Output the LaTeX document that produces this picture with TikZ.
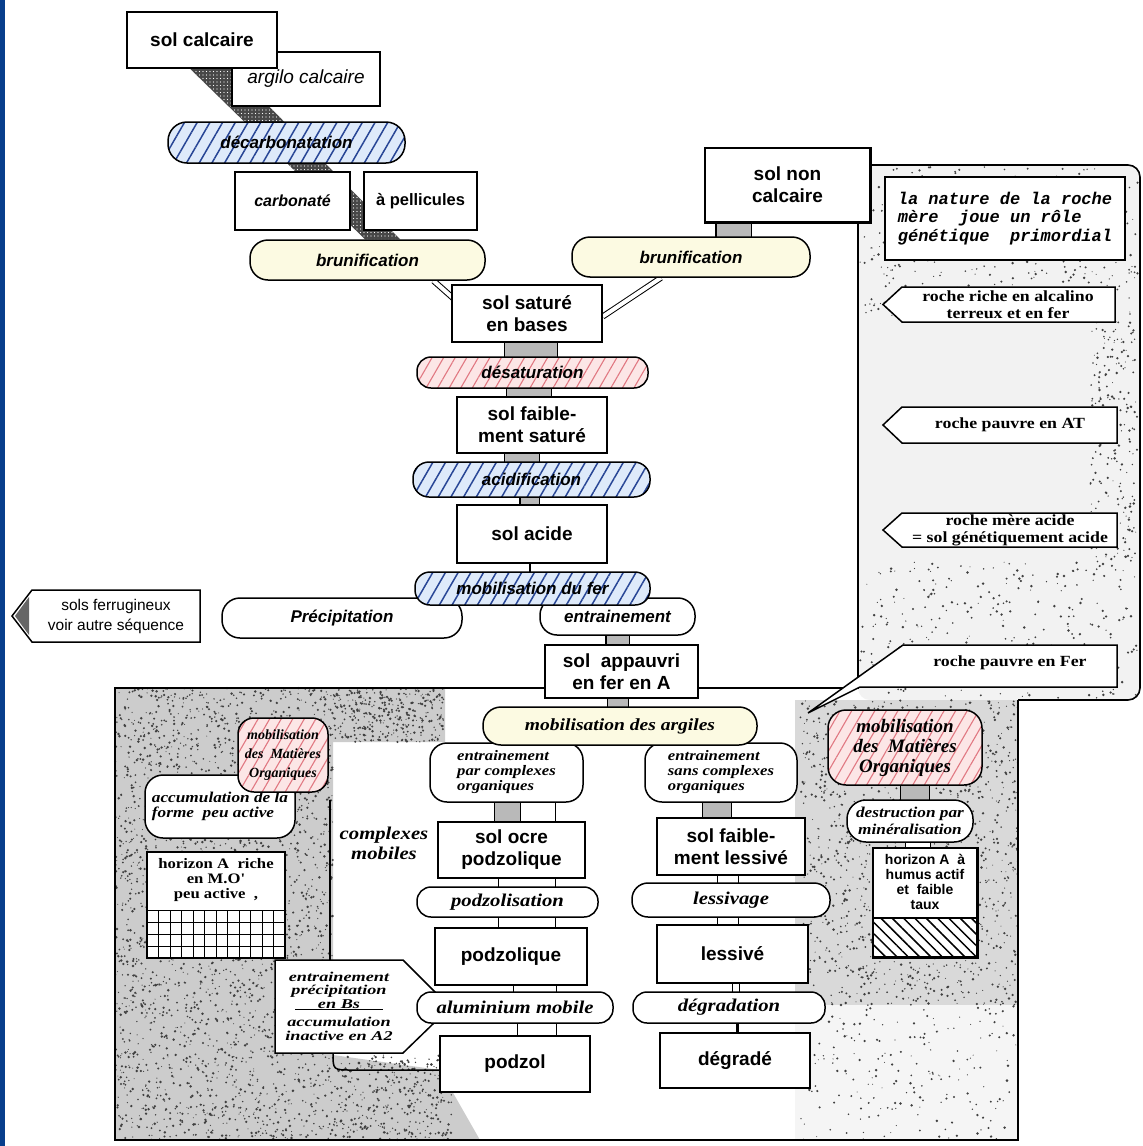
\documentclass[tikz,border=0pt]{standalone}
\usepackage{fontspec}
\setmainfont{Liberation Serif}
\newfontfamily\hv{Liberation Sans}
\newfontfamily\tm{Liberation Serif}
\newfontfamily\tmw[FakeStretch=1.15]{Liberation Serif}
\newfontfamily\tmx[FakeStretch=1.35]{Liberation Serif}
\newfontfamily\mono{Liberation Mono}
\usetikzlibrary{patterns.meta,calc}
\pgfdeclarelayer{back}\pgfdeclarelayer{mid}\pgfsetlayers{back,mid,main}
\definecolor{stripblue}{RGB}{8,62,140}
\definecolor{hblue}{RGB}{40,70,150}
\definecolor{lblue}{RGB}{222,234,250}
\definecolor{lpink}{RGB}{252,230,230}
\definecolor{hpink}{RGB}{225,120,130}
\definecolor{lyell}{RGB}{252,250,226}
\tikzset{
 lw/.style={line width=1.5pt},
 box/.style={draw, lw, fill=white, inner sep=0pt, align=center, font=\hv\bfseries\fontsize{19}{22}\selectfont},
 pill/.style={draw, lw, fill=white, inner sep=0pt, align=center, rounded corners=14pt, font=\hv\bfseries\itshape\fontsize{17}{19}\selectfont},
 spill/.style={pill, font=\tmw\bfseries\itshape\fontsize{18}{20}\selectfont},
 bluehatch/.style={preaction={fill=lblue}, pattern={Lines[angle=60,distance=11pt,line width=1.5pt]}, pattern color=hblue},
 pinkhatch/.style={preaction={fill=lpink}, pattern={Lines[angle=60,distance=10pt,line width=1.1pt]}, pattern color=hpink},
 yellowfill/.style={fill=lyell},
 pipe/.style={line width=1.2pt, double=white, double distance=#1},
 dpipe/.style={line width=1.2pt, double=gray!55, double distance=#1},
 note/.style={font=\tmw\bfseries\fontsize{15.5}{17}\selectfont, align=center, inner sep=0pt},
 arrowshape/.style={draw, lw, fill=white},
 speck/.style={fill=black!75},
}
\newcommand{\speckle}[5]{% count, x0, y0, w, h
  \foreach \k in {1,...,#1}{%
    \pgfmathsetmacro{\px}{#2+#4*rnd}\pgfmathsetmacro{\py}{#3+#5*rnd}\pgfmathsetmacro{\pr}{0.5+0.9*rnd}%
    \fill[speck] (\px,\py) circle (\pr);}}
\begin{document}
\begin{tikzpicture}[x=1pt,y=-1pt]
\useasboundingbox (0,0) rectangle (1143,1146);
\pgfmathsetseed{4242}

% ---------- upper column ----------
\node[box, minimum width=148pt, minimum height=54pt, font=\hv\itshape\fontsize{19}{22}\selectfont] (argilo) at (306,79) {argilo calcaire};
\node[box, minimum width=150pt, minimum height=56pt] (solcal) at (202,40) {sol calcaire};
\node[pill, bluehatch, minimum width=237pt, minimum height=41pt, rounded corners=19pt] (decarb) at (286.5,142.5) {décarbonatation};
\node[box, minimum width=115pt, minimum height=58pt, font=\hv\bfseries\itshape\fontsize{16}{19}\selectfont] (carb) at (292.5,201) {carbonaté};
\node[box, minimum width=113pt, minimum height=58pt, font=\hv\bfseries\fontsize{16.5}{19}\selectfont] (pell) at (420.5,201) {à pellicules};
\node[pill, yellowfill, minimum width=235pt, minimum height=40pt, rounded corners=18pt] (brunL) at (367.5,260) {brunification};
\node[pill, yellowfill, minimum width=238pt, minimum height=40pt, rounded corners=18pt] (brunR) at (691,257) {brunification};

% panels: background, texture and outline
\begin{pgfonlayer}{back}
\fill[white] (0,0) rectangle (1143,1146);
\fill[stripblue] (0,0) rectangle (5,1146);
\fill[gray!10, rounded corners=12pt] (858,165) rectangle (1140,700);
\fill[gray!40] (115,688) -- (445,688) -- (445,742) -- (333,742) -- (333,1055) -- (440,1070) -- (480,1140) -- (115,1140) -- cycle;
\fill[gray!30] (795,700) rectangle (1018,1005);
\fill[gray!8] (795,1005) rectangle (1018,1140);
\speckle{2600}{115}{688}{218}{452}
\speckle{350}{333}{688}{112}{54}
\speckle{360}{333}{1055}{120}{85}
\speckle{1300}{800}{700}{218}{305}
\speckle{200}{800}{1005}{218}{135}
\speckle{420}{860}{167}{278}{150}
\speckle{300}{860}{560}{278}{138}
\speckle{220}{1090}{320}{48}{240}
\draw[line width=1.6pt, rounded corners=12pt] (858,220) -- (858,165) -- (1140,165) -- (1140,700) -- (1018,700);
\draw[line width=1.6pt] (858,220) -- (858,688) -- (115,688) -- (115,1140) -- (1018,1140) -- (1018,700);
\draw[line width=1.4pt] (330,800) -- (330,960);
\end{pgfonlayer}

\node[box, minimum width=165pt, minimum height=74pt] (solnon) at (787.5,185) {sol non\\calcaire};
\draw[line width=3pt] (solnon.north east) -- (solnon.south east) -- (solnon.south west);
\node[box, minimum width=150pt, minimum height=57pt] (solsat) at (527,313.5) {sol saturé\\en bases};
\node[pill, pinkhatch, minimum width=231pt, minimum height=31pt, rounded corners=14pt] (desat) at (532.5,372.5) {désaturation};
\node[box, minimum width=150pt, minimum height=56pt] (solfaib) at (532,425) {sol faible-\\ment saturé};
\node[pill, bluehatch, minimum width=237pt, minimum height=35pt, rounded corners=16pt] (acid) at (531.5,479.5) {acidification};
\node[box, minimum width=150pt, minimum height=58pt] (solacide) at (532,534) {sol acide};
\node[pill, minimum width=240pt, minimum height=40pt, rounded corners=18pt] (precip) at (342,618) {Précipitation};
\node[pill, minimum width=155pt, minimum height=37pt, rounded corners=17pt] (entr) at (617.5,616.5) {entrainement};
\node[pill, bluehatch, minimum width=235pt, minimum height=33pt, rounded corners=15pt] (mobfer) at (532.5,588.5) {mobilisation du fer};
\node[box, minimum width=153pt, minimum height=53pt] (solapp) at (621.5,671.5) {sol\ \ appauvri\\en fer en A};

% sols ferrugineux arrow
\draw[arrowshape] (12,616) -- (32,590) -- (200,590) -- (200,642) -- (32,642) -- cycle;
\fill[black!60] (15,616) -- (29,597) -- (29,635) -- cycle;
\node[font=\hv\fontsize{15.5}{20}\selectfont, align=center, inner sep=0pt] (solsf) at (116,616) {sols ferrugineux\\voir autre séquence};

% ---------- right panel ----------
\node[draw, lw, fill=white, minimum width=240pt, minimum height=83pt, inner sep=0pt, align=left, font=\mono\bfseries\itshape\fontsize{17}{18.5}\selectfont] (nature) at (1005,218.5) {la nature de la roche\\mère\ \ joue un rôle\\génétique\ \ primordial};
\draw[arrowshape] (883,304.5) -- (902,287) -- (1115,287) -- (1115,322) -- (902,322) -- cycle;
\node[note] (riche) at (1008,304.5) {roche riche en alcalino\\terreux et en fer};
\draw[arrowshape] (883,425) -- (902,407) -- (1117,407) -- (1117,443) -- (902,443) -- cycle;
\node[note] (pauvAT) at (1010,425) {roche pauvre en AT};
\draw[arrowshape] (883,530) -- (902,513) -- (1117,513) -- (1117,547) -- (902,547) -- cycle;
\node[note] (acidenote) at (1010,530) {roche mère acide\\= sol génétiquement acide};
\draw[arrowshape] (903,645) -- (1117,645) -- (1117,687) -- (860,687) -- (808,713) -- cycle;
\node[note] (pauvFer) at (1010,663) {roche pauvre en Fer};

% ---------- bottom panel ----------
\node[pill, minimum width=153pt, minimum height=59pt, rounded corners=17pt, align=left, font=\tmw\bfseries\itshape\fontsize{14.5}{15}\selectfont] (entrpar) at (506.5,772.5) {entrainement\\par complexes\\organiques};
\node[pill, minimum width=152pt, minimum height=59pt, rounded corners=17pt, align=left, font=\tmw\bfseries\itshape\fontsize{14.5}{15}\selectfont] (entrsans) at (721,772.5) {entrainement\\sans complexes\\organiques};
\node[pill, yellowfill, minimum width=274pt, minimum height=38pt, rounded corners=18pt, font=\tmw\bfseries\itshape\fontsize{17}{19}\selectfont] (mobarg) at (620,726) {mobilisation des argiles};
\node[box, minimum width=147pt, minimum height=56pt] (solocre) at (511.5,850) {sol ocre\\podzolique};
\node[spill, minimum width=181pt, minimum height=30pt, rounded corners=14pt] (podzation) at (507.5,902) {podzolisation};
\node[box, minimum width=152pt, minimum height=57pt] (podzque) at (511,956.5) {podzolique};
\draw[arrowshape] (275,960) -- (403,960) -- (435,992) -- (435,1022) -- (403,1053) -- (275,1053) -- cycle;
\node[font=\tmx\bfseries\itshape\fontsize{13.5}{13.5}\selectfont, align=center, inner sep=0pt] (bsnote) at (339,1006) {entrainement\\précipitation\\\underline{\makebox[88pt]{en Bs}}\\[5pt]accumulation\\inactive en A2};
\node[spill, minimum width=196pt, minimum height=31pt, rounded corners=14pt] (alu) at (515,1007.5) {aluminium mobile};
\node[box, minimum width=150pt, minimum height=56pt] (podzol) at (515,1064) {podzol};
\draw[lw] (333,1053) .. controls (333,1070) .. (352,1070) -- ($(podzol.west)+(0,6)$);

\node[box, minimum width=148pt, minimum height=57pt] (solfl) at (731,846.5) {sol faible-\\ment lessivé};
\node[spill, minimum width=198pt, minimum height=34pt, rounded corners=16pt] (lessivage) at (731,900) {lessivage};
\node[box, minimum width=151pt, minimum height=58pt] (lessive) at (732.5,954) {lessivé};
\node[spill, minimum width=192pt, minimum height=31pt, rounded corners=14pt] (degradation) at (729,1007.5) {dégradation};
\node[box, minimum width=150pt, minimum height=55pt] (degrade) at (735,1060.5) {dégradé};

% left column of bottom panel
\node[draw, lw, fill=white, rounded corners=18pt, minimum width=150pt, minimum height=63pt, inner sep=0pt, align=left, font=\tmw\bfseries\itshape\fontsize{15}{15}\selectfont] (accum) at (220,806.5) {accumulation de la\\forme\ \ peu active};
\node[draw, lw, pinkhatch, rounded corners=16pt, minimum width=90pt, minimum height=74pt, inner sep=0pt, align=center, font=\tm\bfseries\itshape\fontsize{14}{19}\selectfont] (MOL) at (283,755) {mobilisation\\des\ \ Matières\\Organiques};
\node[draw, lw, fill=white, minimum width=138pt, minimum height=106pt, inner sep=0pt] (horL) at (216,905) {};
\node[font=\tmw\bfseries\fontsize{14.5}{15}\selectfont, align=center, inner sep=0pt] (horLt) at (216,880) {horizon A\ \ riche\\en M.O'\\peu active\ \ ,};
\foreach \i in {1,...,11} \draw[line width=.9pt] ({147+\i*11.5},910) -- ({147+\i*11.5},958);
\foreach \j in {0,1,2,3} \draw[line width=.9pt] (147,{910+\j*12}) -- (285,{910+\j*12});
\node[font=\tmw\bfseries\itshape\fontsize{18}{20}\selectfont, align=center, inner sep=0pt] (cmob) at (384,843) {complexes\\mobiles};

% right column of bottom panel
\node[draw, lw, pinkhatch, rounded corners=18pt, minimum width=154pt, minimum height=75pt, inner sep=0pt, align=center, font=\tm\bfseries\itshape\fontsize{19}{20}\selectfont] (MOR) at (905,747.5) {mobilisation\\des\ \ Matières\\Organiques};
\node[draw, lw, fill=white, rounded corners=19pt, minimum width=126pt, minimum height=42pt, inner sep=0pt, align=center, font=\tmw\bfseries\itshape\fontsize{15}{17}\selectfont] (destr) at (910,821) {destruction par\\minéralisation};
\node[draw, lw, fill=white, minimum width=104pt, minimum height=109pt, inner sep=0pt] (horR) at (925,902.5) {};
\fill[pattern={Lines[angle=-45,distance=8pt,line width=1.5pt]}] (873,918) rectangle (977,957);
\draw[lw] (873,918) -- (977,918);
\draw[lw] (horR.north west) rectangle (horR.south east);
\node[font=\hv\bfseries\fontsize{14}{15}\selectfont, align=center, inner sep=0pt] (horRt) at (925,882) {horizon A\ \ à\\humus actif\\et\ \ faible\\taux};

% ---------- connectors ----------
\begin{pgfonlayer}{mid}
\fill[black!72] ($(solcal.south)+(-12,0)$) -- ($(solcal.south)+(30,0)$) -- ($(brunL.north)+(32.5,0)$) -- ($(brunL.north)+(-2.5,0)$) -- cycle;
\fill[pattern={Dots[distance=3.5pt,radius=.6pt]}, pattern color=white] ($(solcal.south)+(-12,0)$) -- ($(solcal.south)+(30,0)$) -- ($(brunL.north)+(32.5,0)$) -- ($(brunL.north)+(-2.5,0)$) -- cycle;
\draw[line width=1pt, double=white, double distance=4pt] ($(brunL.south)+(66,0)$) -- ($(solsat.north west)+(2,14)$);
\draw[line width=1pt, double=white, double distance=4pt] ($(brunR.south)+(-30,0)$) -- ($(solsat.east)+(0,3)$);
\draw[dpipe=34pt] ([xshift=-54pt]solnon.center) -- ([xshift=-54pt]solnon.center |- brunR.center);
\draw[dpipe=52pt] ([xshift=4pt]solsat.center) -- ([xshift=4pt]solsat.center |- desat.center);
\draw[dpipe=44pt] ([xshift=-3.5pt]desat.center) -- ([xshift=-3.5pt]desat.center |- solfaib.center);
\draw[dpipe=34pt] ([xshift=-10pt]solfaib.center) -- ([xshift=-10pt]solfaib.center |- acid.center);
\draw[dpipe=18pt] ([xshift=-2pt]acid.center) -- ([xshift=-2pt]acid.center |- solacide.center);
\draw[line width=1.6pt] ([xshift=-2pt]solacide.center) -- ([xshift=-2pt]solacide.center |- mobfer.center);
\draw[dpipe=22pt] (entr.center) -- (entr.center |- solapp.center);
\draw[dpipe=20pt] ([xshift=-3.5pt]solapp.center) -- ([xshift=-3.5pt]solapp.center |- mobarg.center);
\draw[pipe=60pt] ([xshift=18.5pt]entrpar.center) -- ([xshift=18.5pt]entrpar.center |- solocre.center);
\draw[dpipe=25pt] ([xshift=1pt]entrpar.center) -- ([xshift=1pt]entrpar.center |- solocre.center);
\draw[pipe=56pt] ([xshift=15.5pt]solocre.center) -- ([xshift=15.5pt]solocre.center |- podzation.center);
\draw[pipe=56pt] ([xshift=15.5pt]solocre.center |- podzation.center) -- ([xshift=15.5pt]solocre.center |- podzque.center);
\draw[pipe=42pt] ([xshift=24pt]podzque.center) -- ([xshift=24pt]podzque.center |- alu.center);
\draw[pipe=38pt] ([xshift=22pt]alu.center) -- ([xshift=22pt]alu.center |- podzol.center);
\draw[dpipe=28pt] ([xshift=-4pt]entrsans.center) -- ([xshift=-4pt]entrsans.center |- solfl.center);
\draw[pipe=20pt] ([xshift=-3pt]solfl.center) -- ([xshift=-3pt]solfl.center |- lessivage.center);
\draw[pipe=20pt] ([xshift=-3pt]lessivage.center) -- ([xshift=-3pt]lessivage.center |- lessive.center);
\draw[pipe=6pt] ([xshift=3.5pt]lessive.center) -- ([xshift=3.5pt]lessive.center |- degradation.center);
\draw[line width=3pt] ([xshift=2pt]degrade.center) -- ([xshift=2pt]degrade.center |- degradation.center);
\draw[dpipe=28pt] ([xshift=10pt]MOR.center) -- ([xshift=10pt]MOR.center |- destr.center);
\draw[pipe=24pt] ([xshift=-7pt]horR.center) -- ([xshift=-7pt]horR.center |- destr.center);
\draw[line width=1.4pt] ($(MOL.east)+(0,22)$) -- ($(MOL.east)+(0,22)$ -| entrpar.west);
\end{pgfonlayer}
\end{tikzpicture}
\end{document}
